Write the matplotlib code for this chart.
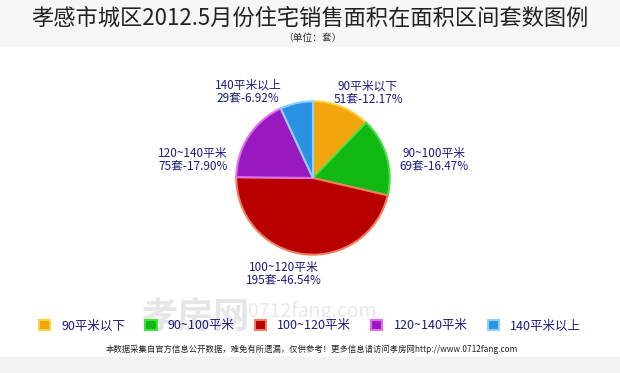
import matplotlib
matplotlib.use("Agg")
import matplotlib.pyplot as plt
from matplotlib.patches import Patch, Rectangle

plt.rcParams['font.family'] = ['Noto Sans CJK SC', 'DejaVu Sans']

categories = ["90平米以下", "90~100平米", "100~120平米", "120~140平米", "140平米以上"]
counts = [51, 69, 195, 75, 29]
percents = ["12.17%", "16.47%", "46.54%", "17.90%", "6.92%"]
colors = ["#f2a50c", "#12b812", "#b80000", "#9a18c0", "#2a92e2"]
edge_colors = ["#ffd040", "#40e040", "#f08060", "#e070f0", "#90d0ff"]

title = "孝感市城区2012.5月份住宅销售面积在面积区间套数图例"
subtitle = "（单位：套）"
footnote = "本数据采集自官方信息公开数据，难免有所遗漏，仅供参考！更多信息请访问孝房网http://www.0712fang.com"

W, H = 620, 373
fig = plt.figure(figsize=(W / 100, H / 100), dpi=100)
fig.patch.set_facecolor("white")

bg = fig.add_axes([0, 0, 1, 1])
bg.set_xlim(0, W)
bg.set_ylim(H, 0)
bg.axis("off")
bg.add_patch(Rectangle((0, 0), W, 46, color="#f6f6f6", zorder=0))
bg.add_patch(Rectangle((0, 357), W, 16, color="#f3f3f3", zorder=0))

# watermark (behind everything)
bg.text(195, 318, "孝房网", ha="center", va="center", fontsize=26, color="#e6e6e6",
        fontweight="bold", zorder=1)
bg.text(312, 312, "0712fang.com", ha="center", va="center", fontsize=14, color="#e8e8e8",
        zorder=1)

# pie
cx, cy, r = 313, 178, 79
pax = fig.add_axes([(cx - r) / W, (H - cy - r) / H, 2 * r / W, 2 * r / H])
wedges, _ = pax.pie(counts, colors=colors, startangle=90, counterclock=False,
                    wedgeprops=dict(linewidth=1.5))
for w, ec in zip(wedges, edge_colors):
    w.set_edgecolor(ec)
pax.set_xlim(-1.03, 1.03)
pax.set_ylim(-1.03, 1.03)
pax.set_aspect("equal")
pax.axis("off")

tx = fig.add_axes([0, 0, 1, 1])
tx.set_xlim(0, W)
tx.set_ylim(H, 0)
tx.axis("off")

tx.text(310, 18, title, ha="center", va="center", fontsize=16, color="#222222")
tx.text(313, 38, subtitle, ha="center", va="center", fontsize=7, color="#333333")

label_pos = [(368, 93), (434, 160), (284, 274), (193, 160), (248, 92)]
lab_color = "#1c1c80"
for cat, n, p, (x, y) in zip(categories, counts, percents, label_pos):
    tx.text(x, y, f"{cat}\n{n}套-{p}", ha="center", va="center", fontsize=8.5,
            color=lab_color, linespacing=1.05)

handles = [Patch(facecolor=c, edgecolor=e, linewidth=1.5) for c, e in zip(colors, edge_colors)]
leg = fig.legend(handles, categories, loc="center", bbox_to_anchor=(0.5, 1 - 326 / H),
                 ncol=5, frameon=False, fontsize=9, handlelength=0.9, handleheight=0.9,
                 columnspacing=1.6, handletextpad=0.9)
for t in leg.get_texts():
    t.set_color(lab_color)

tx.text(312, 349, footnote, ha="center", va="center", fontsize=6, color="#222222")

fig.savefig("out.png", dpi=100)
